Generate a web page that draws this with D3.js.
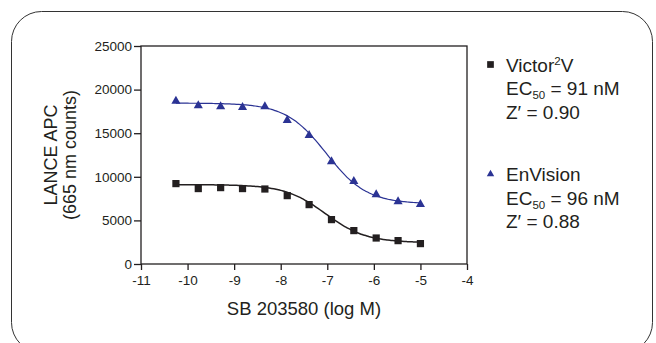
<!DOCTYPE html>
<html>
<head>
<meta charset="utf-8">
<script src="https://cdn.jsdelivr.net/npm/d3@7"></script>
<style>
  html, body { margin: 0; padding: 0; background: #fff; }
  svg { display: block; }
  text { font-family: "Liberation Sans", Arial, sans-serif; fill: #231f20; }
</style>
</head>
<body>
<svg id="chart" width="656" height="343"></svg>
<script>
// log concentration of SB 203580 (3-fold dilution series)
const logConc = [-10.25, -9.77, -9.29, -8.82, -8.34, -7.86, -7.39, -6.91, -6.43, -5.95, -5.48, -5.0];
const victorCounts = [9220, 8650, 8760, 8650, 8600, 7840, 6810, 5090, 3830, 2980, 2680, 2340];
const envisionCounts = [18690, 18170, 18050, 17970, 18050, 16480, 14760, 11740, 9480, 7960, 7160, 6850];

// 4-parameter logistic fit parameters: [top, bottom, logEC50, hill]
const victorFit = [9100, 2450, -7.04, 1];
const envisionFit = [18450, 6900, -7.02, 1];

const xTicks = [-11, -10, -9, -8, -7, -6, -5, -4];
const yTicks = [0, 5000, 10000, 15000, 20000, 25000];

const width = 656, height = 343;
const margin = { left: 141, right: 189, top: 46, bottom: 79 };
const blue = '#2b3394';
const dark = '#231f20';

const svg = d3.select('#chart');

// rounded panel border
svg.append('rect')
  .attr('x', 11.5).attr('y', 11.5)
  .attr('width', 641).attr('height', 341)
  .attr('rx', 30).attr('ry', 30)
  .attr('fill', 'none')
  .attr('stroke', '#333')
  .attr('stroke-width', 1);

const x = d3.scaleLinear().domain([-11, -4]).range([margin.left, width - margin.right]);
const y = d3.scaleLinear().domain([0, 25000]).range([height - margin.bottom, margin.top]);

const g = svg.append('g');

// plot frame
g.append('rect')
  .attr('x', x(-11)).attr('y', y(25000))
  .attr('width', x(-4) - x(-11)).attr('height', y(0) - y(25000))
  .attr('fill', 'none').attr('stroke', dark).attr('stroke-width', 1.3);

const xAxis = g.append('g')
  .attr('transform', `translate(0,${y(0)})`)
  .call(d3.axisBottom(x).tickValues(xTicks).tickSize(6).tickPadding(5)
    .tickFormat(d => String(d)));
const yAxis = g.append('g')
  .attr('transform', `translate(${x(-11)},0)`)
  .call(d3.axisLeft(y).tickValues(yTicks).tickSize(7).tickPadding(2)
    .tickFormat(d => String(d)));

[xAxis, yAxis].forEach(a => {
  a.select('.domain').remove();
  a.selectAll('.tick line').attr('stroke', dark).attr('stroke-width', 1.3);
  a.selectAll('.tick text')
    .attr('font-size', 13.5)
    .attr('font-family', '"Liberation Sans", Arial, sans-serif')
    .attr('fill', dark);
});

// axis titles
g.append('text')
  .attr('x', (x(-11) + x(-4)) / 2).attr('y', 315)
  .attr('text-anchor', 'middle')
  .attr('font-size', 18.5)
  .text('SB 203580 (log M)');

const yMid = (y(0) + y(25000)) / 2;
const yTitle = g.append('text')
  .attr('transform', `translate(57,${yMid}) rotate(-90)`)
  .attr('text-anchor', 'middle')
  .attr('font-size', 18);
yTitle.append('tspan').attr('x', 0).attr('dy', 0).text('LANCE APC');
yTitle.append('tspan').attr('x', 0).attr('dy', 19).text('(665 nm counts)');

// fitted curves
function logistic(p, lx) {
  const [top, bottom, ec, hill] = p;
  return bottom + (top - bottom) / (1 + Math.pow(10, (lx - ec) * hill));
}
const curveX = d3.range(logConc[0], logConc[logConc.length - 1] + 0.001, 0.05);
const line = d3.line().x(d => x(d[0])).y(d => y(d[1])).curve(d3.curveBasis);

g.append('path')
  .datum(curveX.map(lx => [lx, logistic(victorFit, lx)]))
  .attr('d', line).attr('fill', 'none')
  .attr('stroke', dark).attr('stroke-width', 1.5);
g.append('path')
  .datum(curveX.map(lx => [lx, logistic(envisionFit, lx)]))
  .attr('d', line).attr('fill', 'none')
  .attr('stroke', blue).attr('stroke-width', 1.2);

// markers
const sq = d3.symbol().type(d3.symbolSquare).size(52);
const tri = d3.symbol().type(d3.symbolTriangle).size(36);

g.selectAll('.sq').data(logConc.map((c, i) => [c, victorCounts[i]]))
  .join('path').attr('class', 'sq')
  .attr('transform', d => `translate(${x(d[0])},${y(d[1])})`)
  .attr('d', sq).attr('fill', dark);

g.selectAll('.tri').data(logConc.map((c, i) => [c, envisionCounts[i]]))
  .join('path').attr('class', 'tri')
  .attr('transform', d => `translate(${x(d[0])},${y(d[1])})`)
  .attr('d', tri).attr('fill', blue);

// legend
const legend = [
  { name: 'Victor', sup: '2', tail: 'V', ec: '91', z: '0.90', y0: 71.5,
    sym: d3.symbol().type(d3.symbolSquare).size(45), color: dark },
  { name: 'EnVision', sup: '', tail: '', ec: '96', z: '0.88', y0: 181,
    sym: d3.symbol().type(d3.symbolTriangle).size(24), color: blue }
];
const lx0 = 506;
legend.forEach(l => {
  svg.append('path')
    .attr('transform', `translate(490.5,${l.y0 - 7})`)
    .attr('d', l.sym())
    .attr('fill', l.color);

  const t1 = svg.append('text').attr('x', lx0).attr('y', l.y0).attr('font-size', 19);
  t1.append('tspan').text(l.name);
  if (l.sup) {
    t1.append('tspan').attr('font-size', 11.5).attr('dy', -7).text(l.sup);
    t1.append('tspan').attr('dy', 7).text(l.tail);
  }

  const t2 = svg.append('text').attr('x', lx0).attr('y', l.y0 + 23.5).attr('font-size', 19);
  t2.append('tspan').text('EC');
  t2.append('tspan').attr('font-size', 11.5).attr('dy', 4).text('50');
  t2.append('tspan').attr('dy', -4).text(` = ${l.ec} nM`);

  svg.append('text').attr('x', lx0).attr('y', l.y0 + 47).attr('font-size', 19)
    .text(`Z\u2032 = ${l.z}`);
});
</script>
</body>
</html>
